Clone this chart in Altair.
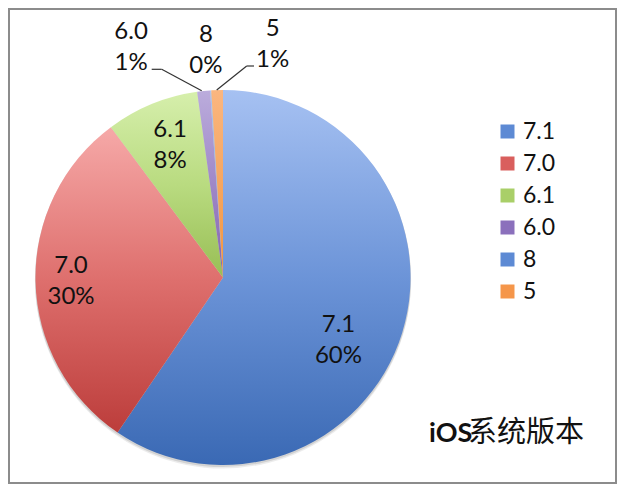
import math
import altair as alt
import pandas as pd

# ---- data ----
versions = ["7.1", "7.0", "6.1", "6.0", "8", "5"]
shares = [59.5, 30.3, 8.0, 1.1, 0.1, 1.0]
pct_labels = ["60%", "30%", "8%", "1%", "0%", "1%"]
title_latin = "iOS"
title_cjk = "系统版本"

df = pd.DataFrame({
    "version": versions,
    "share": shares,
    "pct": pct_labels,
    "idx": list(range(len(versions))),
})

# ---- layout / style ----
W, H = 609, 476
CX, CY, R = 215, 269.5, 187.5
FONT = "Lato"
TXT = "#111111"

slice_grad = {
    "7.1": ["#A6C1F2", "#6C94D8", "#3A69B4"],
    "7.0": ["#F6A9A8", "#DE6F6D", "#BC3D3B"],
    "6.1": ["#D6EFAC", "#B9DB80", "#98BE55"],
    "6.0": ["#BBACDC", "#9F88C8", "#8364AD"],
    "8": ["#A9C3F0", "#92B2E6", "#7FA0DC"],
    "5": ["#FAB680", "#F6A660", "#F2953F"],
}
legend_colors = ["#5D8AD4", "#D95F5D", "#A9CF68", "#8B70BC", "#5D8AD4", "#F5964A"]

# label placement: (radius, dx, dy) -- dy moves the first line of the two-line label
label_pos = {
    "7.1": (125, -4, 11),
    "7.0": (152, 0, -15),
    "6.1": (142, 1, -16),
    "6.0": (231, -68, -16),
    "8": (229, -2, -14),
    "5": (233, 57, -16),
}

theta_scale = alt.Scale(domain=[0, 100], range=[0, 2 * math.pi])

base = (
    alt.Chart(df)
    .transform_stack(stack="share", groupby=[], as_=["start", "end"],
                     sort=[alt.SortField("idx", order="ascending")])
    .transform_calculate(mid="(datum.start + datum.end) / 2",
                         label="datum.version + '\\n' + datum.pct")
)


def grad(cols):
    return alt.LinearGradient(
        gradient="linear",
        stops=[alt.GradientStop(offset=0, color=cols[0]),
               alt.GradientStop(offset=0.5, color=cols[1]),
               alt.GradientStop(offset=1, color=cols[2])],
        x1=0, x2=0, y1=0, y2=1,
    )


layers = []

# frame
layers.append(
    base.transform_filter(alt.datum.idx == 0)
    .mark_rect(fillOpacity=0, stroke="#8C8C8C", strokeWidth=2)
    .encode(x=alt.value(1), x2=alt.value(W - 1), y=alt.value(1), y2=alt.value(H - 1))
)

# soft shadow under pie
for off, op in [(3.0, 0.12), (1.5, 0.18)]:
    layers.append(
        base.transform_filter(alt.datum.idx == 0)
        .mark_arc(radius=R + 0.5, theta=0, theta2=2 * math.pi, fill="#606060", opacity=op)
        .encode(x=alt.value(CX), y=alt.value(CY + off))
    )

# slices
for v in versions:
    layers.append(
        base.transform_filter(alt.datum.version == v)
        .mark_arc(radius=R, fill=grad(slice_grad[v]))
        .encode(
            theta=alt.Theta("start:Q", scale=theta_scale, stack=None),
            theta2=alt.Theta2("end:Q"),
            x=alt.value(CX), y=alt.value(CY),
        )
    )

# data labels
for v in versions:
    r, dx, dy = label_pos[v]
    layers.append(
        base.transform_filter(alt.datum.version == v)
        .mark_text(radius=r, dx=dx, dy=dy, font=FONT, fontSize=24, color=TXT,
                   align="center", baseline="middle", lineBreak="\n", lineHeight=31)
        .encode(
            theta=alt.Theta("mid:Q", scale=theta_scale, stack=None),
            text="label:N",
            x=alt.value(CX), y=alt.value(CY),
        )
    )

# leader lines for the small outside labels
leaders = [
    ("6.0", 143.7, 61.3, 153.7, 61.3),
    ("6.0", 153.7, 61.3, 193.7, 82.7),
    ("5", 246.0, 58.0, 238.7, 58.0),
    ("5", 238.7, 58.0, 208.7, 82.0),
]
for v, x1, y1, x2, y2 in leaders:
    layers.append(
        base.transform_filter(alt.datum.version == v)
        .mark_rule(color="#333333", strokeWidth=1.2)
        .encode(x=alt.value(x1), y=alt.value(y1), x2=alt.value(x2), y2=alt.value(y2))
    )

# legend (driven by a color scale on an invisible layer)
layers.append(
    base.mark_point(filled=True, shape="square", opacity=0, size=1)
    .encode(
        x=alt.value(0), y=alt.value(0),
        color=alt.Color(
            "version:N",
            scale=alt.Scale(domain=versions, range=legend_colors),
            legend=alt.Legend(
                title=None, orient="none", legendX=488, legendY=112,
                symbolType="square", symbolSize=196, symbolOpacity=1,
                symbolStrokeWidth=0, labelFont=FONT, labelFontSize=23,
                labelColor=TXT, rowPadding=8, labelOffset=4, padding=0,
            ),
        ),
    )
)

# title text at bottom right
layers.append(
    base.transform_filter(alt.datum.idx == 0)
    .mark_text(text=title_latin, font=FONT, fontSize=27, fontWeight="bold", color=TXT,
               align="left", baseline="middle")
    .encode(x=alt.value(421), y=alt.value(426))
)
layers.append(
    base.transform_filter(alt.datum.idx == 0)
    .mark_text(text=title_cjk, font="Noto Sans CJK SC", fontSize=29, color=TXT,
               align="left", baseline="middle")
    .encode(x=alt.value(460), y=alt.value(425))
)

chart = (
    alt.layer(*layers)
    .properties(width=W, height=H, autosize=alt.AutoSizeParams(type="none"), padding=0,
                background="white")
    .configure_view(strokeWidth=0)
)

chart.save("out.html", embed_options={"renderer": "svg", "actions": False})
